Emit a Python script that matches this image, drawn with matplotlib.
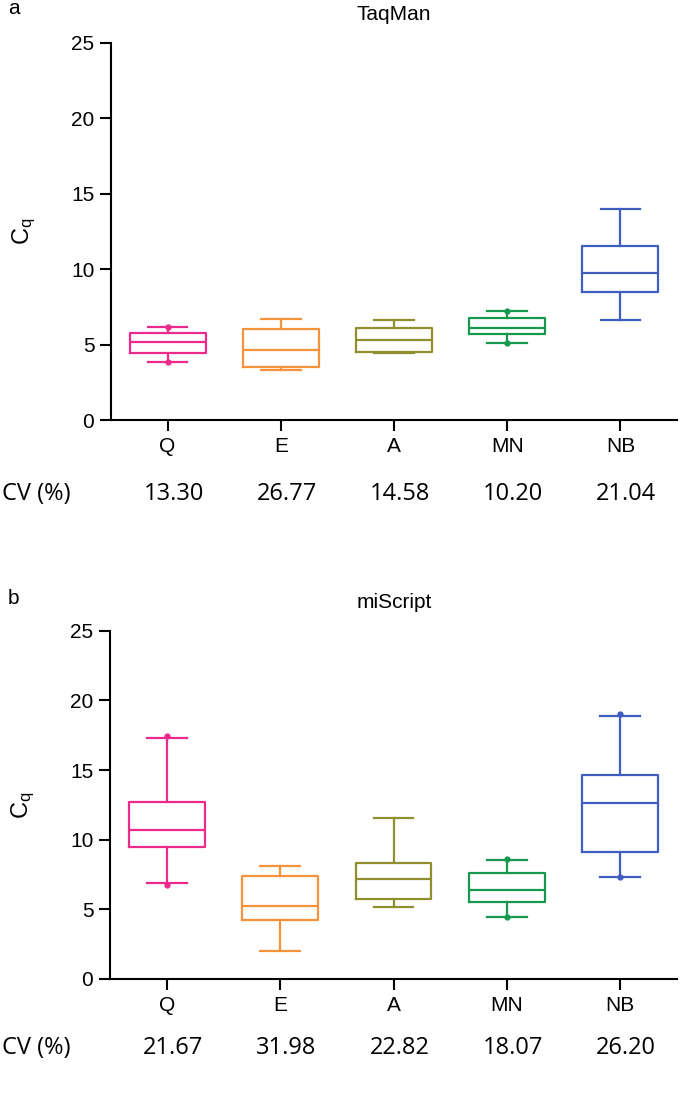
import numpy as np
import matplotlib
matplotlib.use('Agg')
import matplotlib.pyplot as plt

plt.rcParams['font.family'] = ['Liberation Sans', 'DejaVu Sans']

groups = ['Q', 'E', 'A', 'MN', 'NB']
colors = ['#EC2A8C', '#F7923A', '#8F8F2E', '#16994E', '#3F5CBF']

# TaqMan (panel a): whisker low, q1, median, q3, whisker high
taq_lo = [3.82, 3.31, 4.46, 5.10, 6.61]
taq_q1 = [4.46, 3.53, 4.53, 5.72, 8.48]
taq_med = [5.18, 4.66, 5.32, 6.08, 9.76]
taq_q3 = [5.74, 6.03, 6.08, 6.74, 11.55]
taq_hi = [6.18, 6.69, 6.61, 7.22, 13.96]
taq_dots = [[3.82, 6.18], [], [], [5.10, 7.22], []]
taq_cv = ['13.30', '26.77', '14.58', '10.20', '21.04']

# miScript (panel b)
mis_lo = [6.87, 2.03, 5.19, 4.47, 7.30]
mis_q1 = [9.45, 4.24, 5.74, 5.50, 9.09]
mis_med = [10.70, 5.26, 7.15, 6.37, 12.63]
mis_q3 = [12.73, 7.39, 8.30, 7.63, 14.62]
mis_hi = [17.28, 8.14, 11.58, 8.52, 18.88]
mis_dots = [[6.75, 17.44], [], [], [4.47, 8.60], [7.30, 19.0]]
mis_cv = ['21.67', '31.98', '22.82', '18.07', '26.20']

W, H = 680, 1108
fig = plt.figure(figsize=(W / 100, H / 100), dpi=100)


def panel(rect, lo, q1, med, q3, hi, dots, cv, title, letter, letter_y, title_y, cv_y):
    ax = fig.add_axes(rect)
    pos = np.arange(1, len(groups) + 1)
    for i, c in enumerate(colors):
        st = [dict(whislo=lo[i], q1=q1[i], med=med[i], q3=q3[i],
                   whishi=hi[i], fliers=dots[i])]
        ax.bxp(st, positions=[pos[i]], widths=0.67, capwidths=0.35,
               showfliers=True,
               boxprops=dict(color=c, linewidth=1.6),
               medianprops=dict(color=c, linewidth=1.6),
               whiskerprops=dict(color=c, linewidth=1.6),
               capprops=dict(color=c, linewidth=1.6),
               flierprops=dict(marker='o', markersize=3.5, markerfacecolor=c,
                               markeredgecolor=c, linestyle='none'))
    ax.set_xlim(0.5, 5.5)
    ax.set_ylim(0, 25)
    ax.set_yticks([0, 5, 10, 15, 20, 25])
    ax.set_xticks(pos)
    ax.set_xticklabels(groups)
    for s in ['top', 'right']:
        ax.spines[s].set_visible(False)
    for s in ['left', 'bottom']:
        ax.spines[s].set_linewidth(1.5)
    ax.tick_params(axis='both', length=8, width=1.5, labelsize=15, pad=4)
    ax.set_ylabel(r'$\mathregular{C_q}$', fontsize=17, labelpad=24)
    fig.text(394 / W, 1 - title_y / H, title, fontsize=15, ha='center', va='center')
    fig.text(8 / W, 1 - letter_y / H, letter, fontsize=15, ha='left', va='center')
    fig.text(2 / W, 1 - cv_y / H, 'CV (%)', fontsize=17, ha='left', va='center',
             family=['Open Sans', 'DejaVu Sans'])
    for i, v in enumerate(cv):
        xd = ax.transData.transform((pos[i], 0))[0]
        fig.text((xd + 6) / W, 1 - cv_y / H, v, fontsize=17, ha='center',
                 va='center', family=['Open Sans', 'DejaVu Sans'])
    return ax


panel([111 / W, 1 - 420 / H, 566 / W, 377.3 / H],
      taq_lo, taq_q1, taq_med, taq_q3, taq_hi, taq_dots, taq_cv,
      'TaqMan', 'a', 9, 15, 494)
panel([110 / W, 1 - 979 / H, 567 / W, 348.3 / H],
      mis_lo, mis_q1, mis_med, mis_q3, mis_hi, mis_dots, mis_cv,
      'miScript', 'b', 598, 603, 1048)

fig.savefig('out.png', dpi=100)
